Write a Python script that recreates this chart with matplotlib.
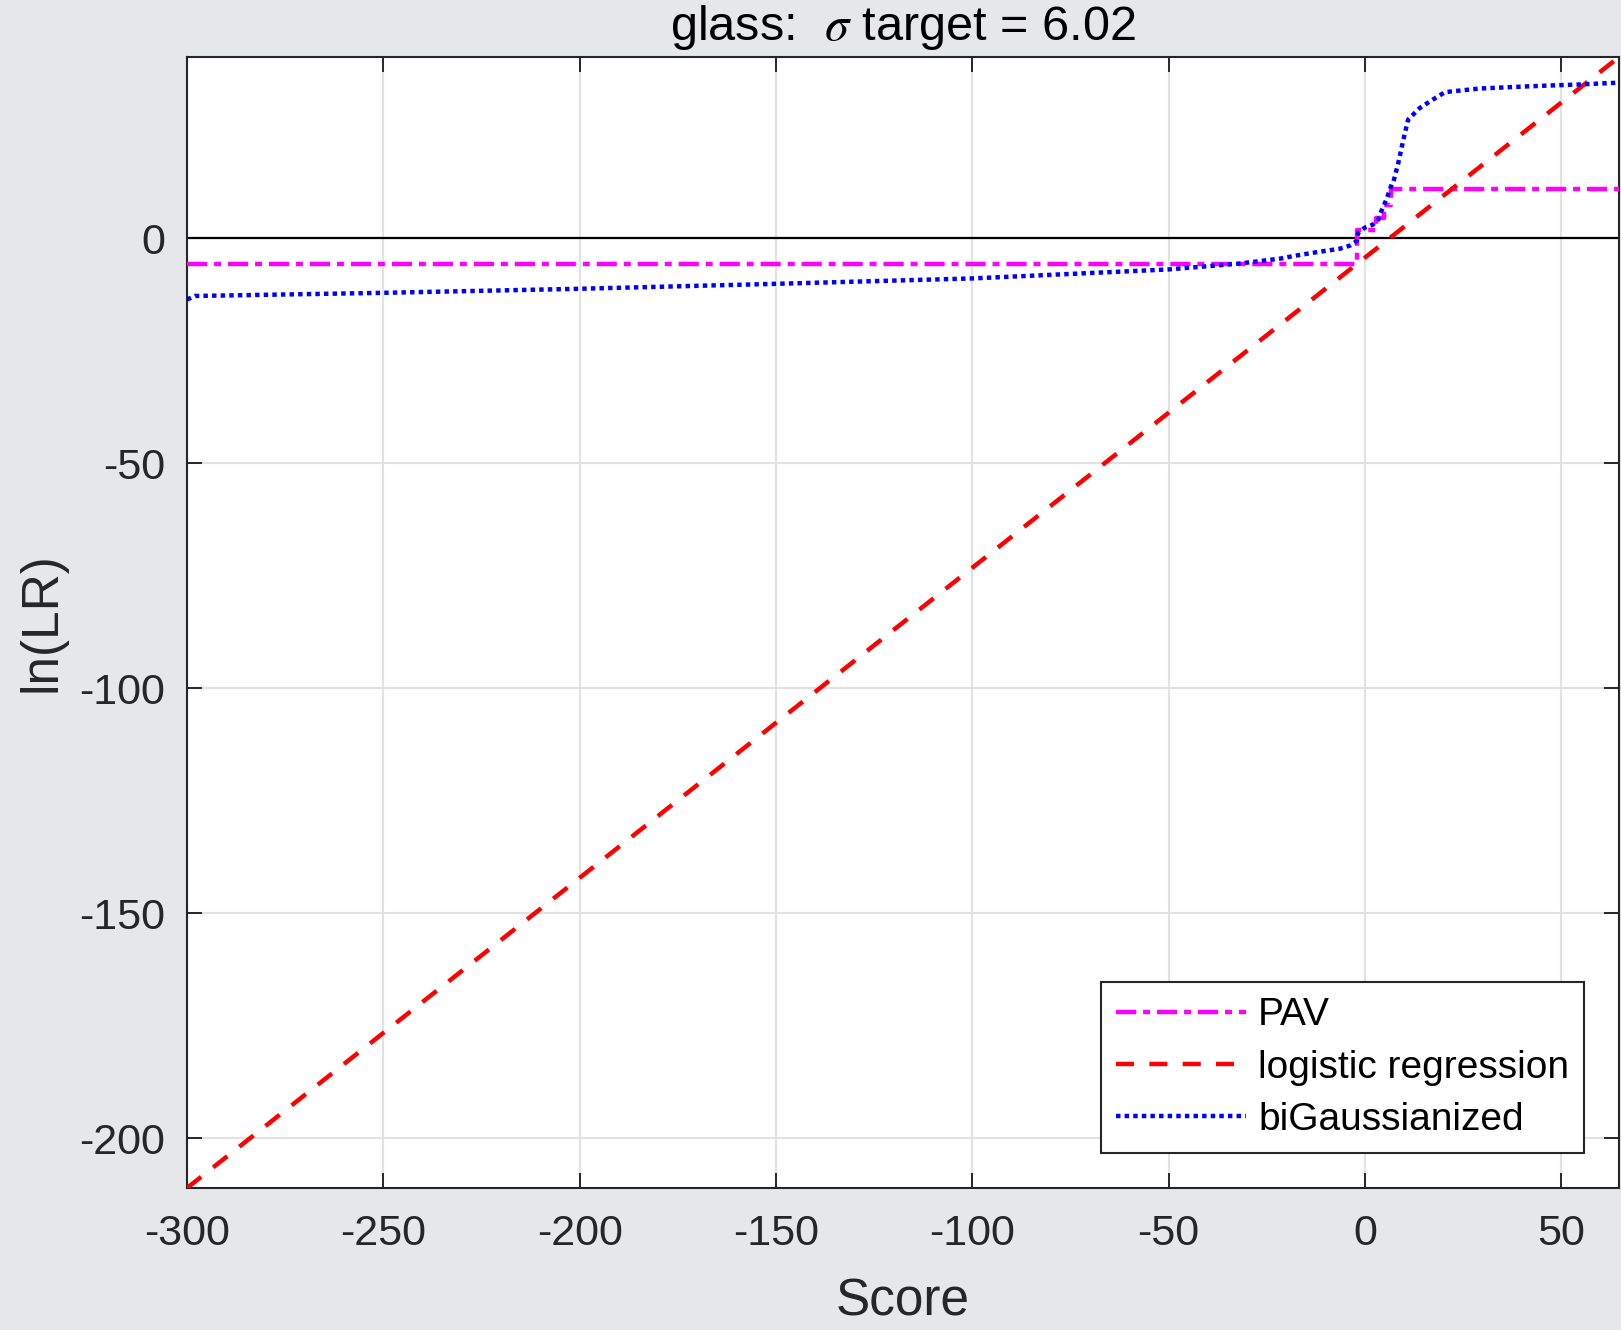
import matplotlib
matplotlib.use("Agg")
import matplotlib.pyplot as plt

plt.rcParams['font.family'] = ['Liberation Sans', 'DejaVu Sans']
plt.rcParams['mathtext.fontset'] = 'stix'
plt.rcParams['lines.scale_dashes'] = False
plt.rcParams['axes.unicode_minus'] = False

# Calibration curves: score -> ln(LR)
pav_score = [-300.0, -1.9, 2.8, 4.8, 6.6, 64.7]
pav_llr = [-5.6, 1.8, 4.5, 7.5, 10.9, 10.9]

lr_score = [-300.0, 64.7]
lr_llr = [-211.0, 40.3]

bg_score = [-300.0, -298.0, -250.0, -200.0, -150.0, -100.0, -50.0, -32.0,
            -21.6, -17.4, -13.2, -6.4, -3.8, -2.1, -1.7, 0.0, 2.1, 3.4,
            4.2, 5.5, 6.8, 7.2, 8.5, 9.8, 11.0, 14.0, 17.4, 20.4, 29.3,
            42.0, 54.7, 64.7]
bg_llr = [-13.6, -12.8, -12.1, -11.2, -10.1, -8.9, -6.9, -5.6,
          -4.5, -3.8, -3.2, -2.3, -1.6, -0.6, 1.3, 2.4, 3.1, 4.2,
          6.1, 8.7, 12.0, 12.4, 16.8, 22.0, 26.4, 29.0, 30.9, 32.5, 33.3,
          33.8, 34.2, 34.6]

x_ticks = [-300, -250, -200, -150, -100, -50, 0, 50]
y_ticks = [-200, -150, -100, -50, 0]
x_limits = (-300, 64.7)
y_limits = (-211.0, 40.3)

title_text = 'glass:  $\\sigma$ target = 6.02'
labels = ['PAV', 'logistic regression', 'biGaussianized']

axis_gray = '#262626'
fig = plt.figure(figsize=(16.21, 13.30), dpi=100, facecolor='#e6e7e9')
ax = fig.add_axes([187 / 1621, (1330 - 1188) / 1330, 1432 / 1621, 1131 / 1330])
ax.set_facecolor('white')

ax.plot(pav_score, pav_llr, color='#ff00ff', lw=3.2, drawstyle='steps-post',
        dashes=(14.5, 5, 5, 5), dash_capstyle='butt', label=labels[0], zorder=3)
ax.plot(lr_score, lr_llr, color='#ff0000', lw=3.2,
        dashes=(13, 11), dash_capstyle='butt', label=labels[1], zorder=3)
ax.plot(bg_score, bg_llr, color='#0000ff', lw=3.2,
        dashes=(3.2, 3.0), dash_capstyle='butt', label=labels[2], zorder=3)
ax.axhline(0, color='black', lw=1.6, zorder=2)

ax.set_xlim(*x_limits)
ax.set_ylim(*y_limits)
ax.set_xticks(x_ticks)
ax.set_yticks(y_ticks)
ax.grid(True, color='#e2e2e2', lw=1.5, zorder=0)
ax.set_axisbelow(True)

for side in ax.spines.values():
    side.set_color(axis_gray)
    side.set_linewidth(1.5)
ax.tick_params(which='both', direction='in', length=10.8, width=1.4,
               color=axis_gray, labelcolor=axis_gray, labelsize=31,
               top=True, right=True)
ax.tick_params(axis='x', pad=18.5)
ax.tick_params(axis='y', pad=16)

ax.set_xlabel('Score', fontsize=37, color=axis_gray)
ax.xaxis.set_label_coords(0.5, -0.079)
ax.set_ylabel('ln(LR)', fontsize=37, color=axis_gray)
ax.yaxis.set_label_coords(-0.084, 0.5)
ax.set_title(title_text, fontsize=35, color='black', pad=12)

leg = ax.legend(loc='lower right', bbox_to_anchor=(0.9755, 0.0312),
                borderaxespad=0, fontsize=28, frameon=True, fancybox=False,
                edgecolor=axis_gray, handlelength=3.35, handletextpad=0.3,
                labelspacing=0.42, borderpad=0.38)
leg.get_frame().set_linewidth(1.5)
leg.get_frame().set_facecolor('white')
leg.get_frame().set_alpha(1)

fig.savefig('out.png', dpi=100, facecolor=fig.get_facecolor())
